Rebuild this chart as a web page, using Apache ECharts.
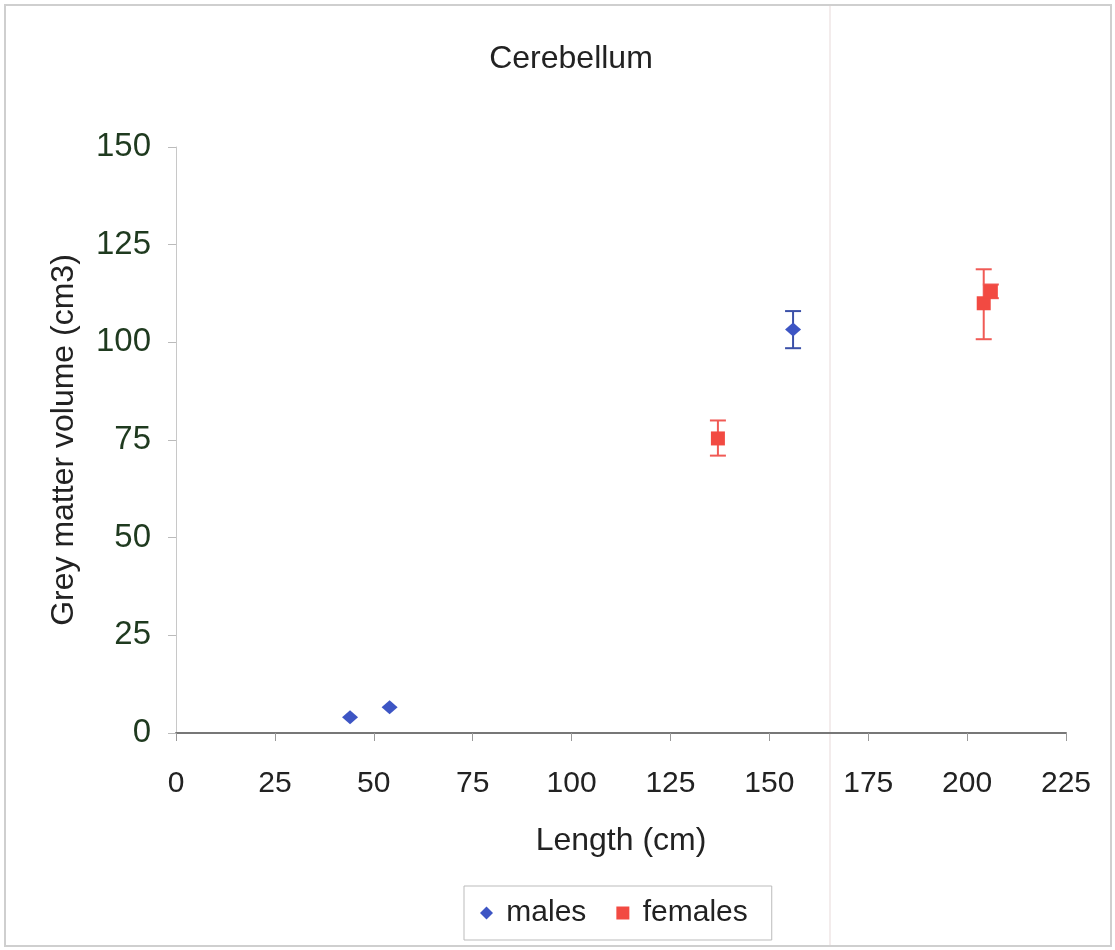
<!DOCTYPE html>
<html>
<head>
<meta charset="utf-8">
<script src="https://cdn.jsdelivr.net/npm/echarts@6/dist/echarts.min.js"></script>
<style>
html,body{margin:0;padding:0;background:#fff;}
#chart{width:1115px;height:950px;}
</style>
</head>
<body>
<div id="chart"></div>
<script>
// length (cm), grey matter volume (cm3), error low, error high
var malesX=[44,54,156]
var malesY=[4,6.6,103.3]
var malesLo=[null,null,98.5]
var malesHi=[null,null,108]

var femalesX=[137,204.2,206]
var femalesY=[75.4,110,113]
var femalesLo=[71,100.8,111.3]
var femalesHi=[80,118.7,114.8]

var xTicks=[0,25,50,75,100,125,150,175,200,225]
var yTicks=[0,25,50,75,100,125,150]

function pts(xs,ys){
	var out=[]
	for(var i=0;i<xs.length;i++){out.push([xs[i],ys[i]])}
	return out
}
function errs(xs,lo,hi){
	var out=[]
	for(var i=0;i<xs.length;i++){
		if(lo[i]!=null){out.push([xs[i],lo[i],hi[i]])}
	}
	return out
}
function errRender(color){
	return function(params,api){
		var lo=api.coord([api.value(0),api.value(1)])
		var hi=api.coord([api.value(0),api.value(2)])
		var w=8
		var st={stroke:color,lineWidth:2}
		return {type:'group',children:[
			{type:'line',shape:{x1:lo[0],y1:lo[1],x2:hi[0],y2:hi[1]},style:st},
			{type:'line',shape:{x1:lo[0]-w,y1:lo[1],x2:lo[0]+w,y2:lo[1]},style:st},
			{type:'line',shape:{x1:hi[0]-w,y1:hi[1],x2:hi[0]+w,y2:hi[1]},style:st}
		]}
	}
}

var mychart=echarts.init(document.getElementById('chart'))
var option={
	backgroundColor:'#fff',
	animation:false,
	textStyle:{fontFamily:'Liberation Sans, Arial, sans-serif'},
	title:{
		text:'Cerebellum',
		left:566,
		top:38,
		textAlign:'center',
		textStyle:{fontSize:32,fontWeight:'normal',color:'#222'}
	},
	graphic:[
		{type:'rect',shape:{x:5,y:5,width:1106,height:941},style:{fill:'none',stroke:'#cfcfcf',lineWidth:2},z:-10},
		{type:'line',shape:{x1:830,y1:6,x2:830,y2:945},style:{stroke:'#f3ecec',lineWidth:2},z:-10}
	],
	legend:{
		left:464,
		top:886,
		padding:[12,24,12,16],
		borderColor:'#bbbbbb',
		borderWidth:1,
		itemWidth:13,
		itemHeight:13,
		itemGap:30,
		textStyle:{fontSize:30,color:'#222'},
		formatter:function(name){return ' '+name},
		data:[
			{name:'males',icon:'diamond'},
			{name:'females',icon:'rect'}
		]
	},
	grid:{left:176,right:49,top:147,bottom:217,show:false},
	xAxis:{
		type:'value',
		min:0,max:225,interval:25,
		name:'Length (cm)',
		nameLocation:'middle',
		nameGap:92,
		nameTextStyle:{fontSize:32,color:'#222'},
		axisLine:{lineStyle:{color:'#777',width:2}},
		axisTick:{show:true,length:8,lineStyle:{color:'#999'}},
		axisLabel:{fontSize:30,color:'#222',margin:36},
		splitLine:{show:false}
	},
	yAxis:{
		type:'value',
		min:0,max:150,interval:25,
		name:'Grey matter volume (cm3)',
		nameLocation:'middle',
		nameGap:96,
		nameTextStyle:{fontSize:32,color:'#222'},
		axisLine:{show:true,lineStyle:{color:'#c8c8c8',width:1}},
		axisTick:{show:true,length:8,lineStyle:{color:'#bbb'}},
		axisLabel:{fontSize:33,color:'#1f3a1f',margin:25},
		splitLine:{show:false}
	},
	series:[
		{
			name:'males-err',type:'custom',
			renderItem:errRender('#3b50a8'),
			data:errs(malesX,malesLo,malesHi),
			encode:{x:0,y:[1,2]},z:1
		},
		{
			name:'females-err',type:'custom',
			renderItem:errRender('#f05a55'),
			data:errs(femalesX,femalesLo,femalesHi),
			encode:{x:0,y:[1,2]},z:1
		},
		{
			name:'males',type:'scatter',
			symbol:'diamond',symbolSize:[16,14],
			itemStyle:{color:'#3d55c4',opacity:1},
			data:pts(malesX,malesY),z:3
		},
		{
			name:'females',type:'scatter',
			symbol:'rect',symbolSize:14,
			itemStyle:{color:'#f24a42',opacity:1},
			data:pts(femalesX,femalesY),z:3
		}
	]
}
mychart.setOption(option)
</script>
</body>
</html>
